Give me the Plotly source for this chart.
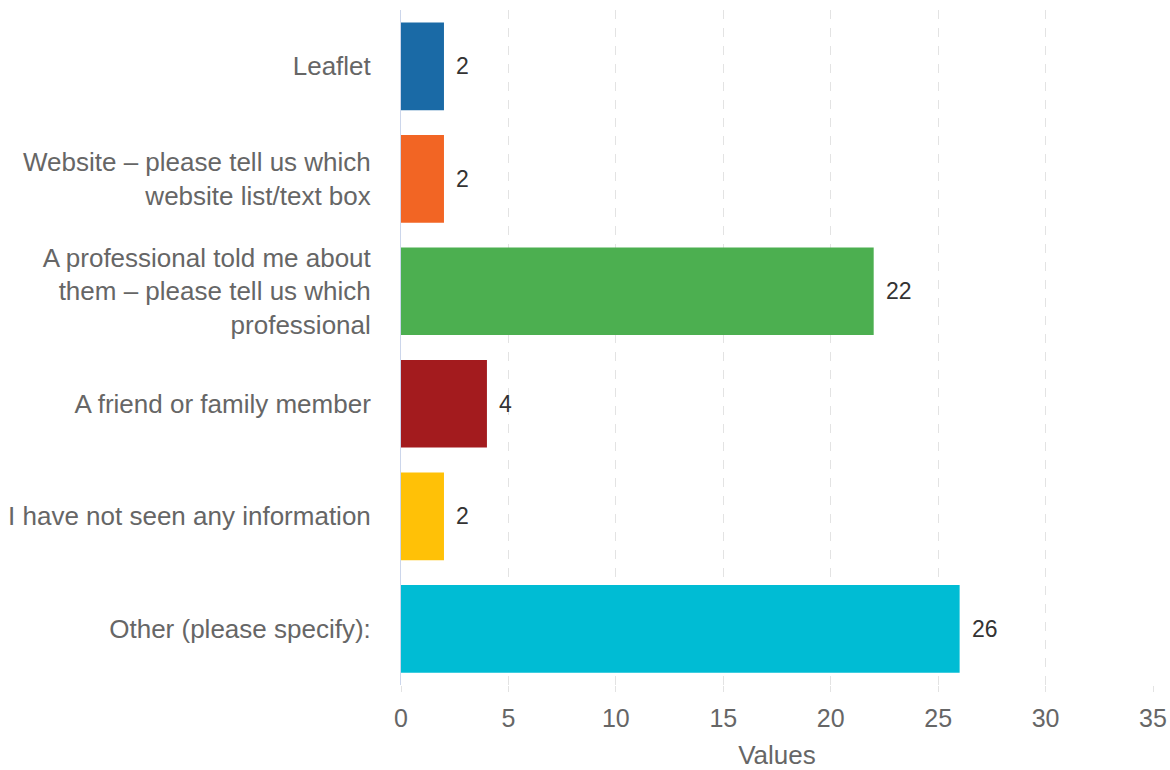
import plotly.graph_objects as go

categories = [
    "Leaflet",
    "Website – please tell us which<br>website list/text box",
    "A professional told me about<br>them – please tell us which<br>professional",
    "A friend or family member",
    "I have not seen any information",
    "Other (please specify):",
]
values = [2, 2, 22, 4, 2, 26]
colors = ["#1a6aa6", "#f26524", "#4caf50", "#a31b1e", "#ffc107", "#00bcd4"]
x_ticks = [0, 5, 10, 15, 20, 25, 30, 35]

fig = go.Figure()
fig.add_trace(go.Bar(
    x=values, y=categories, orientation="h",
    marker=dict(color=colors, line=dict(width=0)),
    hoverinfo="x+y",
))
for c, v in zip(categories, values):
    fig.add_annotation(x=v, y=c, text=str(v), showarrow=False,
                       xanchor="left", xshift=10,
                       font=dict(size=23, color="#333333"))

fig.update_layout(
    width=1170, height=770,
    margin=dict(l=401, r=17, t=10, b=85, autoexpand=False),
    plot_bgcolor="white", paper_bgcolor="white",
    font=dict(family="Liberation Sans, Arial, sans-serif", color="#666666", size=25),
    bargap=0.22,
    showlegend=False,
    xaxis=dict(
        range=[0, 35], tickvals=x_ticks, showgrid=True, automargin=False,
        gridcolor="#e3e3e3", griddash="dash", gridwidth=1,
        zeroline=False, showline=False,
        ticks="outside", ticklen=6, tickcolor="#e3e3e3",
        tickfont=dict(size=25, color="#666666"),
        ticklabelstandoff=5,
        title=dict(text="Values", font=dict(size=26, color="#666666"), standoff=18),
    ),
    yaxis=dict(
        autorange="reversed", showgrid=False, zeroline=False, automargin=False,
        showline=True, linecolor="#ccd6eb", linewidth=1,
        ticks="", tickfont=dict(size=26, color="#666666"),
        ticklabelstandoff=24,
    ),
)
fig.write_html(
    "out.html",
    config={"displayModeBar": False},
    post_script="document.body.style.margin='0';document.body.style.overflow='hidden';",
)
